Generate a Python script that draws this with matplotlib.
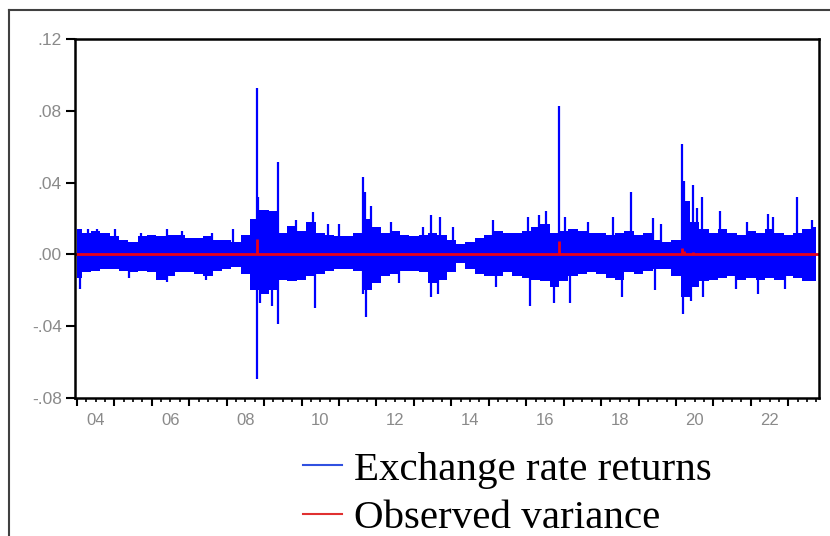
import matplotlib
matplotlib.use("Agg")
import matplotlib.pyplot as plt
from matplotlib.lines import Line2D
import numpy as np

# ---------------- data ----------------
# quarterly envelope of the daily exchange-rate returns
env_years = [2004.00 + 0.25 * i for i in range(80)]
env_upper = [0.014, 0.012, 0.013, 0.012, 0.010, 0.008, 0.007, 0.010,
             0.011, 0.010, 0.011, 0.011, 0.009, 0.009, 0.010, 0.008,
             0.008, 0.007, 0.011, 0.020, 0.025, 0.024, 0.012, 0.016,
             0.013, 0.018, 0.012, 0.011, 0.010, 0.010, 0.012, 0.020,
             0.015, 0.012, 0.013, 0.011, 0.010, 0.011, 0.012, 0.011,
             0.008, 0.006, 0.007, 0.009, 0.011, 0.013, 0.012, 0.012,
             0.013, 0.015, 0.017, 0.012, 0.013, 0.014, 0.013, 0.012,
             0.012, 0.011, 0.012, 0.013, 0.011, 0.012, 0.008, 0.007,
             0.008, 0.030, 0.018, 0.014, 0.012, 0.014, 0.012, 0.011,
             0.013, 0.012, 0.014, 0.012, 0.011, 0.012, 0.014, 0.015]
env_lower = [-0.013, -0.010, -0.009, -0.008, -0.008, -0.009, -0.010, -0.009,
             -0.010, -0.014, -0.012, -0.010, -0.010, -0.011, -0.012, -0.009,
             -0.008, -0.007, -0.011, -0.020, -0.022, -0.020, -0.014, -0.015,
             -0.014, -0.012, -0.011, -0.009, -0.008, -0.008, -0.009, -0.020,
             -0.016, -0.012, -0.011, -0.009, -0.009, -0.010, -0.016, -0.014,
             -0.010, -0.005, -0.008, -0.011, -0.012, -0.012, -0.010, -0.012,
             -0.013, -0.014, -0.015, -0.018, -0.015, -0.012, -0.011, -0.010,
             -0.011, -0.013, -0.014, -0.010, -0.011, -0.009, -0.008, -0.008,
             -0.012, -0.024, -0.018, -0.015, -0.014, -0.013, -0.012, -0.014,
             -0.013, -0.014, -0.013, -0.014, -0.012, -0.013, -0.015, -0.015]

# isolated large daily returns
up_spike_years = [2004.30, 2004.55, 2005.01, 2005.70, 2006.40, 2006.80, 2007.60,
                  2008.17, 2008.80, 2008.85, 2009.05, 2009.36,
                  2009.85, 2010.31, 2010.70, 2011.00, 2011.65, 2011.70, 2011.85,
                  2012.40, 2013.25, 2013.47, 2013.70, 2014.05, 2015.12, 2016.05,
                  2016.35, 2016.54, 2016.87, 2017.03, 2017.65, 2018.32, 2018.81,
                  2019.39, 2019.61, 2020.17, 2020.22, 2020.46, 2020.55, 2020.70,
                  2021.17, 2021.90, 2022.46, 2022.59, 2023.22, 2023.62]
up_spike_values = [0.014, 0.014, 0.014, 0.012, 0.014, 0.013, 0.012,
                   0.014, 0.0926, 0.032, 0.025, 0.0513,
                   0.019, 0.0235, 0.017, 0.017, 0.043, 0.0347, 0.027,
                   0.018, 0.015, 0.022, 0.021, 0.015, 0.019, 0.021,
                   0.022, 0.024, 0.0827, 0.021, 0.018, 0.021, 0.0347,
                   0.020, 0.017, 0.0614, 0.041, 0.0385, 0.026, 0.032,
                   0.024, 0.018, 0.0227, 0.021, 0.032, 0.019]
down_spike_years = [2004.08, 2005.40, 2006.40, 2007.45, 2008.80, 2008.90, 2009.20,
                    2009.36, 2010.35, 2011.65, 2011.72, 2012.60, 2013.47, 2013.65,
                    2015.20, 2016.10, 2016.75, 2017.18, 2018.55, 2019.43, 2020.20,
                    2020.40, 2020.73, 2021.60, 2022.19, 2022.90]
down_spike_values = [-0.019, -0.013, -0.0155, -0.014, -0.0694, -0.027, -0.029,
                     -0.0387, -0.030, -0.022, -0.035, -0.016, -0.024, -0.022,
                     -0.018, -0.0285, -0.027, -0.027, -0.024, -0.020, -0.033,
                     -0.026, -0.024, -0.019, -0.022, -0.019]

# observed variance (squared returns), mostly ~0
var_years = [2008.80, 2009.36, 2011.65, 2016.87, 2020.17, 2020.22, 2020.46]
var_values = [0.0086, 0.0010, 0.0010, 0.0075, 0.0033, 0.0017, 0.0015]
sample_start, sample_end = 2003.95, 2023.82

y_ticks = [-0.08, -0.04, 0.00, 0.04, 0.08, 0.12]
y_tick_labels = ["-.08", "-.04", ".00", ".04", ".08", ".12"]
x_label_years = [2004, 2006, 2008, 2010, 2012, 2014, 2016, 2018, 2020, 2022]
x_labels = ["04", "06", "08", "10", "12", "14", "16", "18", "20", "22"]
legend_labels = ["Exchange rate returns", "Observed variance"]

# ---------------- figure ----------------
BLUE = "#0000ff"
RED = "#e8001c"
fig = plt.figure(figsize=(8.30, 5.36), dpi=100)
ax = fig.add_axes([75 / 830, 1 - 398 / 536, (819 - 75) / 830, (398 - 39) / 536])

ax.fill_between(env_years, env_lower, env_upper, step="mid", color=BLUE, lw=0)
ax.vlines(up_spike_years, 0, up_spike_values, color=BLUE, lw=1.6)
ax.vlines(down_spike_years, down_spike_values, 0, color=BLUE, lw=1.6)

ax.plot([sample_start, sample_end], [0, 0], color=RED, lw=2.0, solid_capstyle="butt")
ax.vlines(var_years, 0, var_values, color=RED, lw=2.0)

ax.set_xlim(sample_start, sample_end)
ax.set_ylim(-0.08, 0.12)

ax.set_yticks(y_ticks)
ax.set_yticklabels(y_tick_labels)
ax.set_xticks(np.arange(2004, 2024, 1))
ax.set_xticks(np.arange(2004, 2024, 0.25), minor=True)
ax.set_xticklabels([])
ax.tick_params(axis="y", direction="out", length=6.5, width=1.5, pad=3,
               labelsize=12.5, labelcolor="#8a8a8a", labelfontfamily="Liberation Sans")
ax.tick_params(axis="x", which="major", direction="out", length=6, width=1.5)
ax.tick_params(axis="x", which="minor", direction="out", length=3, width=1.2)

sec = ax.secondary_xaxis("bottom")
sec.set_xticks([y + 0.5 for y in x_label_years])
sec.set_xticklabels(x_labels)
sec.tick_params(length=0, pad=11, labelsize=12, labelcolor="#8a8a8a",
                labelfontfamily="Liberation Sans")
sec.spines["bottom"].set_visible(False)

for s in ax.spines.values():
    s.set_linewidth(1.8)

# outer frame (left and top edges)
fig.add_artist(Line2D([9 / 830, 9 / 830], [0, 1 - 9.5 / 536], color="#404040", lw=1.5,
                      transform=fig.transFigure))
fig.add_artist(Line2D([9 / 830, 1], [1 - 9.5 / 536, 1 - 9.5 / 536], color="#404040", lw=1.5,
                      transform=fig.transFigure))

handles = [Line2D([], [], color="#3050e0", lw=1.5), Line2D([], [], color="#e03030", lw=1.5)]
fig.legend(handles, legend_labels, loc="upper left", bbox_to_anchor=(303 / 830, 1 - 451 / 536),
           frameon=False, prop={"family": "Liberation Serif", "size": 29.5},
           handlelength=0.95, handletextpad=0.3, labelspacing=0.27, borderpad=0, borderaxespad=0)

fig.savefig("out.png", dpi=100)
